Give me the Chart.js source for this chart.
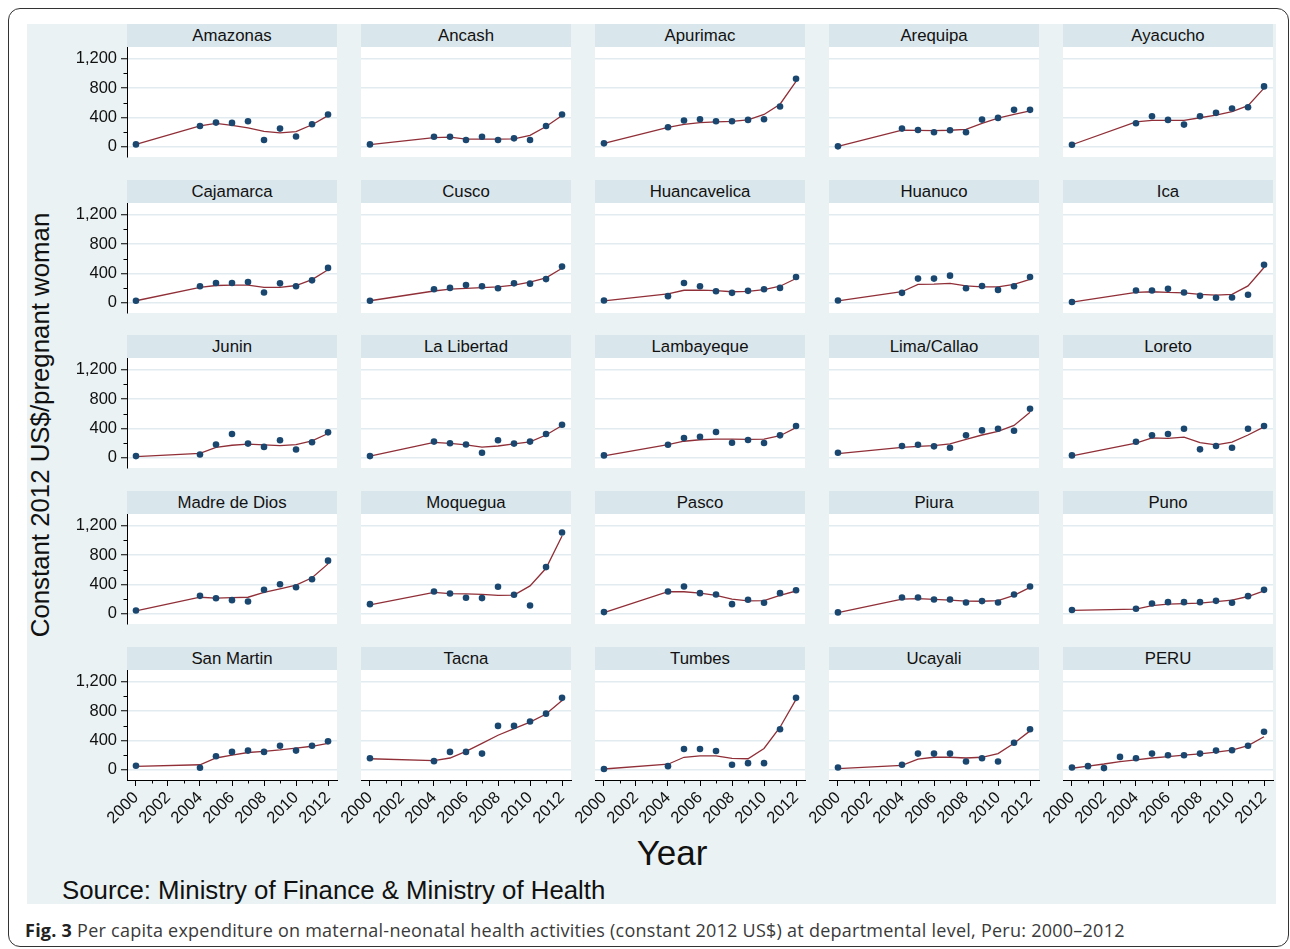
<!DOCTYPE html>
<html>
<head>
<meta charset="utf-8">
<title>Maternal-neonatal health expenditure by department, Peru 2000–2012</title>
<script src="https://cdn.jsdelivr.net/npm/chart.js@4.4.1/dist/chart.umd.min.js"></script>
<style>
  html, body { margin: 0; padding: 0; }
  body { width: 1290px; height: 949px; position: relative; overflow: hidden; background: #fff;
         font-family: "Liberation Sans", Arial, sans-serif; }
  #frame { position: absolute; left: 8px; top: 8px; width: 1281px; height: 939px;
           border: 1.5px solid #333; border-radius: 12px; box-sizing: border-box; }
  #region { position: absolute; left: 27px; top: 24px; width: 1249px; height: 880px; background: #eaf2f3; }
  .strip { position: absolute; height: 23px; line-height: 23px; background: #d9e6eb; text-align: center;
           font-size: 16.8px; color: #111; }
  .plotbg { position: absolute; background: #fff; }
  canvas { position: absolute; }
  #ytitle { position: absolute; left: 40px; top: 425px; transform: translate(-50%, -50%) rotate(-90deg);
            white-space: nowrap; font-size: 25.8px; color: #111; }
  #xtitle { position: absolute; left: 672px; top: 853px; transform: translate(-50%, -50%);
            font-size: 35px; color: #111; white-space: nowrap; }
  #source { position: absolute; left: 62px; top: 890px; transform: translateY(-50%);
            font-size: 25.8px; color: #111; white-space: nowrap; }
  #caption { position: absolute; left: 25px; top: 930px; transform: translateY(-50%);
             font-family: "Open Sans", "Noto Sans", sans-serif; font-size: 18px; letter-spacing: 0.25px;
             color: #3a3a3a; white-space: nowrap; }
  #caption b { color: #222; }
</style>
</head>
<body>
<div id="frame"></div>
<div id="region"></div>
<div id="ytitle">Constant 2012 US$/pregnant woman</div>
<div id="xtitle">Year</div>
<div id="source">Source: Ministry of Finance &amp; Ministry of Health</div>
<div id="caption"><b>Fig. 3</b> Per capita expenditure on maternal-neonatal health activities (constant 2012 US$) at departmental level, Peru: 2000–2012</div>

<script>
// Observation years (departments) and full series years (national total)
const years = [2000, 2004, 2005, 2006, 2007, 2008, 2009, 2010, 2011, 2012];
const peruYears = [2000, 2001, 2002, 2003, 2004, 2005, 2006, 2007, 2008, 2009, 2010, 2011, 2012];

// Axis ticks
const xMajorTicks = [2000, 2002, 2004, 2006, 2008, 2010, 2012];
const xMinorTicks = [2001, 2003, 2005, 2007, 2009, 2011];
const yMajorTicks = [0, 400, 800, 1200];
const yMinorTicks = [200, 600, 1000];

// Per capita spending (constant 2012 US$ per pregnant woman) and lowess fit
const amazonasObs = [32, 283, 329, 325, 347, 91, 247, 140, 306, 439];
const amazonasFit = [32, 283, 318, 290, 258, 210, 190, 205, 300, 425];
const ancashObs = [32, 137, 137, 91, 137, 91, 114, 91, 283, 439];
const ancashFit = [30, 125, 130, 105, 105, 105, 108, 155, 275, 425];
const apurimacObs = [46, 265, 357, 375, 347, 347, 366, 375, 549, 928];
const apurimacFit = [46, 265, 305, 330, 340, 345, 365, 440, 580, 890];
const arequipaObs = [5, 247, 229, 197, 224, 197, 370, 393, 503, 503];
const arequipaFit = [5, 225, 222, 220, 225, 238, 320, 390, 440, 490];
const ayacuchoObs = [27, 320, 416, 366, 302, 416, 462, 521, 539, 823];
const ayacuchoFit = [27, 340, 360, 360, 360, 395, 430, 480, 560, 800];
const cajamarcaObs = [27, 224, 269, 269, 282, 139, 264, 224, 305, 475];
const cajamarcaFit = [27, 210, 235, 240, 240, 210, 210, 235, 315, 450];
const cuscoObs = [27, 184, 202, 242, 224, 197, 264, 260, 322, 493];
const cuscoFit = [27, 160, 185, 195, 205, 215, 240, 280, 340, 470];
const huancavelicaObs = [31, 90, 270, 225, 157, 135, 162, 184, 202, 351];
const huancavelicaFit = [25, 120, 170, 172, 165, 150, 155, 180, 225, 330];
const huanucoObs = [31, 135, 329, 329, 369, 198, 229, 175, 225, 351];
const huanucoFit = [25, 150, 250, 255, 265, 230, 215, 215, 250, 320];
const icaObs = [9, 166, 166, 189, 139, 94, 67, 72, 108, 517];
const icaFit = [9, 140, 150, 140, 135, 115, 105, 115, 230, 480];
const juninObs = [22, 45, 180, 324, 193, 148, 238, 112, 211, 346];
const juninFit = [15, 60, 140, 170, 185, 175, 165, 180, 230, 330];
const laLibertadObs = [22, 220, 198, 180, 67, 238, 193, 220, 324, 449];
const laLibertadFit = [22, 210, 195, 175, 145, 160, 190, 215, 310, 440];
const lambayequeObs = [32, 177, 268, 286, 350, 205, 241, 200, 305, 432];
const lambayequeFit = [25, 180, 225, 245, 255, 255, 250, 255, 300, 410];
const limaCallaoObs = [68, 159, 177, 155, 136, 305, 373, 395, 368, 668];
const limaCallaoFit = [55, 140, 155, 165, 190, 250, 310, 360, 440, 620];
const loretoObs = [32, 218, 305, 323, 395, 114, 159, 136, 395, 432];
const loretoFit = [25, 200, 270, 265, 280, 205, 175, 213, 310, 420];
const madreDeDiosObs = [45, 244, 212, 185, 167, 326, 403, 362, 471, 724];
const madreDeDiosFit = [40, 225, 212, 220, 225, 290, 340, 390, 490, 680];
const moqueguaObs = [131, 303, 276, 217, 213, 367, 258, 113, 636, 1107];
const moqueguaFit = [120, 290, 275, 270, 265, 250, 255, 380, 620, 1060];
const pascoObs = [22, 303, 371, 281, 263, 131, 190, 149, 281, 321];
const pascoFit = [15, 300, 300, 280, 250, 200, 175, 180, 250, 310];
const piuraObs = [18, 222, 222, 195, 195, 154, 172, 154, 263, 371];
const piuraFit = [15, 200, 205, 195, 185, 172, 170, 180, 250, 360];
const punoObs = [50, 68, 140, 158, 158, 158, 176, 149, 240, 326];
const punoFit = [45, 62, 110, 130, 138, 145, 165, 185, 235, 312];
const sanMartinObs = [54, 27, 184, 243, 261, 243, 328, 261, 328, 387];
const sanMartinFit = [45, 68, 160, 200, 235, 250, 270, 295, 320, 360];
const tacnaObs = [157, 117, 243, 243, 220, 598, 598, 657, 765, 980];
const tacnaFit = [150, 125, 160, 250, 360, 470, 560, 650, 760, 945];
const tumbesObs = [9, 49, 283, 283, 256, 67, 90, 90, 553, 980];
const tumbesFit = [10, 75, 170, 190, 190, 155, 150, 290, 580, 960];
const ucayaliObs = [31, 67, 220, 220, 220, 112, 157, 112, 368, 553];
const ucayaliFit = [15, 60, 145, 170, 170, 160, 170, 220, 360, 530];
const peruObs = [31, 49, 22, 175, 157, 220, 198, 198, 220, 261, 265, 328, 517];
const peruFit = [20, 50, 78, 112, 135, 160, 180, 198, 215, 240, 268, 330, 450];

const panelNames = ['Amazonas', 'Ancash', 'Apurimac', 'Arequipa', 'Ayacucho',
  'Cajamarca', 'Cusco', 'Huancavelica', 'Huanuco', 'Ica',
  'Junin', 'La Libertad', 'Lambayeque', 'Lima/Callao', 'Loreto',
  'Madre de Dios', 'Moquegua', 'Pasco', 'Piura', 'Puno',
  'San Martin', 'Tacna', 'Tumbes', 'Ucayali', 'PERU'];
const panelObs = [amazonasObs, ancashObs, apurimacObs, arequipaObs, ayacuchoObs,
  cajamarcaObs, cuscoObs, huancavelicaObs, huanucoObs, icaObs,
  juninObs, laLibertadObs, lambayequeObs, limaCallaoObs, loretoObs,
  madreDeDiosObs, moqueguaObs, pascoObs, piuraObs, punoObs,
  sanMartinObs, tacnaObs, tumbesObs, ucayaliObs, peruObs];
const panelFit = [amazonasFit, ancashFit, apurimacFit, arequipaFit, ayacuchoFit,
  cajamarcaFit, cuscoFit, huancavelicaFit, huanucoFit, icaFit,
  juninFit, laLibertadFit, lambayequeFit, limaCallaoFit, loretoFit,
  madreDeDiosFit, moqueguaFit, pascoFit, piuraFit, punoFit,
  sanMartinFit, tacnaFit, tumbesFit, ucayaliFit, peruFit];

// Grid geometry of the small multiples
const colLeft = [127, 361, 595, 829, 1063];
const rowTop = [47, 203, 358, 514, 670];
const PLOT_W = 210, PLOT_H = 110, STRIP_H = 23;
const FONT = '"Liberation Sans", Arial, sans-serif';

// Short minor tick marks between the labelled ticks
const minorTickPlugin = {
  id: 'minorTicks',
  afterDraw(chart, _args, opts) {
    const { ctx, chartArea: a, scales } = chart;
    ctx.save();
    ctx.strokeStyle = '#000';
    ctx.lineWidth = 1;
    ctx.beginPath();
    if (opts.y) {
      yMinorTicks.forEach(v => {
        const p = Math.round(scales.y.getPixelForValue(v)) + 0.5;
        ctx.moveTo(a.left, p); ctx.lineTo(a.left - 3.5, p);
      });
    }
    if (opts.x) {
      xMinorTicks.forEach(v => {
        const p = Math.round(scales.x.getPixelForValue(v)) + 0.5;
        ctx.moveTo(p, a.bottom); ctx.lineTo(p, a.bottom + 3.5);
      });
    }
    ctx.stroke();
    ctx.restore();
  }
};

panelNames.forEach((name, i) => {
  const r = Math.floor(i / 5), c = i % 5;
  const firstCol = c === 0, lastRow = r === 4;
  const left = colLeft[c], top = rowTop[r];
  const xs = name === 'PERU' ? peruYears : years;

  const strip = document.createElement('div');
  strip.className = 'strip';
  strip.style.left = left + 'px';
  strip.style.top = (top - STRIP_H) + 'px';
  strip.style.width = PLOT_W + 'px';
  strip.textContent = name;
  document.body.appendChild(strip);

  const bg = document.createElement('div');
  bg.className = 'plotbg';
  bg.style.left = left + 'px';
  bg.style.top = top + 'px';
  bg.style.width = PLOT_W + 'px';
  bg.style.height = PLOT_H + 'px';
  document.body.appendChild(bg);

  // Canvas margins around the plot area; the layout padding keeps the
  // plot area fixed whatever the tick labels need.
  const padL = firstCol ? 70 : 40, padR = 20, padT = 16;
  const padB = lastRow ? 70 : 16;
  const layoutB = lastRow ? 0 : 16;
  const xAxisH = lastRow ? 70 : 0;
  const canvas = document.createElement('canvas');
  const cw = PLOT_W + padL + padR, ch = PLOT_H + padT + padB;
  canvas.width = cw; canvas.height = ch;
  canvas.style.left = (left - padL) + 'px';
  canvas.style.top = (top - padT) + 'px';
  canvas.style.width = cw + 'px';
  canvas.style.height = ch + 'px';
  document.body.appendChild(canvas);

  new Chart(canvas, {
    type: 'scatter',
    data: {
      datasets: [
        {
          label: 'Observed',
          data: xs.map((x, k) => ({ x, y: panelObs[i][k] })),
          backgroundColor: '#1a476f',
          borderWidth: 0,
          pointRadius: 3.3,
          pointStyle: 'circle',
          order: 1
        },
        {
          label: 'Lowess',
          data: xs.map((x, k) => ({ x, y: panelFit[i][k] })),
          showLine: true,
          borderColor: '#902f37',
          borderWidth: 1.3,
          pointRadius: 0,
          tension: 0,
          order: 2
        }
      ]
    },
    options: {
      responsive: false,
      devicePixelRatio: 1,
      animation: false,
      events: [],
      layout: { padding: { left: 0, right: padR, top: padT, bottom: layoutB } },
      plugins: {
        legend: { display: false },
        tooltip: { enabled: false },
        minorTicks: { x: lastRow, y: firstCol }
      },
      scales: {
        x: {
          type: 'linear',
          min: 1999.44,
          max: 2012.56,
          display: lastRow,
          afterBuildTicks: s => { s.ticks = xMajorTicks.map(v => ({ value: v })); },
          afterFit: s => { s.height = xAxisH; },
          grid: { drawOnChartArea: false, drawTicks: true, tickLength: 6, tickColor: '#000', tickWidth: 1 },
          border: { display: true, color: '#000', width: 1 },
          ticks: {
            autoSkip: false, minRotation: 45, maxRotation: 45, padding: 2,
            color: '#111', font: { family: FONT, size: 16.5 },
            callback: v => String(v)
          }
        },
        y: {
          type: 'linear',
          min: -140,
          max: 1360,
          afterBuildTicks: s => { s.ticks = yMajorTicks.map(v => ({ value: v })); },
          afterFit: s => { s.width = padL; },
          grid: { color: '#e2ebef', lineWidth: 1.5, drawTicks: firstCol, tickLength: 6, tickColor: '#000', tickWidth: 1 },
          border: { display: firstCol, color: '#000', width: 1 },
          ticks: {
            display: firstCol, padding: 4,
            color: '#111', font: { family: FONT, size: 16.5 },
            callback: v => v.toLocaleString('en-US')
          }
        }
      }
    },
    plugins: [minorTickPlugin]
  });
});
</script>
</body>
</html>
